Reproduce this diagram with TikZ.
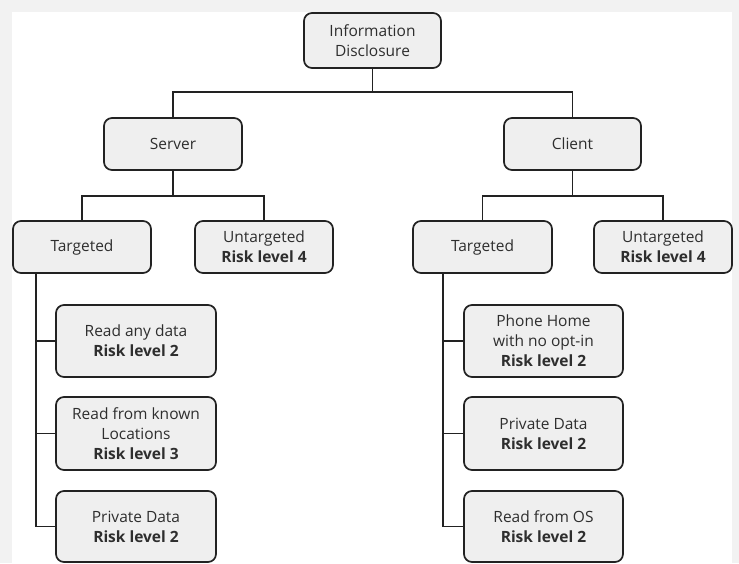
\documentclass[tikz,border=0pt]{standalone}
\usepackage{fontspec}
\setmainfont{Open Sans}
\usetikzlibrary{calc}
\definecolor{framegray}{HTML}{F2F2F2}
\definecolor{boxgray}{HTML}{EFEFEF}
\definecolor{edgeblack}{HTML}{222222}
\definecolor{textgray}{HTML}{2E2E2E}
\tikzset{
  box/.style={draw=edgeblack, line width=1.7pt, fill=boxgray, rounded corners=8pt,
    align=center, inner sep=0pt, text=textgray,
    font=\fontsize{15.5}{20}\selectfont},
  link/.style={draw=edgeblack, line width=1.6pt}
}
\begin{document}
\begin{tikzpicture}[x=1pt,y=-1pt]
\useasboundingbox (0,0) rectangle (739,563);
\fill[framegray] (0,0) rectangle (739,563);
\fill[white] (12,12) rectangle (732,563);

\node[box, minimum width=137pt, minimum height=55pt] (info) at (372.5,40.5) {Information\\Disclosure};

\node[box, minimum width=138pt, minimum height=52pt] (server) at (173,144) {Server};
\node[box, minimum width=137pt, minimum height=52pt] (client) at (572.5,144) {Client};

\node[box, minimum width=138pt, minimum height=52pt] (sT) at (82,247) {Targeted};
\node[box, minimum width=138pt, minimum height=52pt] (sU) at (264,247) {Untargeted\\\textbf{Risk level 4}};
\node[box, minimum width=139pt, minimum height=52pt] (cT) at (482.5,247) {Targeted};
\node[box, minimum width=138pt, minimum height=52pt] (cU) at (663,247) {Untargeted\\\textbf{Risk level 4}};

\node[box, minimum width=160pt, minimum height=72pt] (s1) at (136,341) {Read any data\\\textbf{Risk level 2}};
\node[box, minimum width=160pt, minimum height=73pt] (s2) at (136,433.5) {Read from known\\Locations\\\textbf{Risk level 3}};
\node[box, minimum width=160pt, minimum height=71pt] (s3) at (136,526.5) {Private Data\\\textbf{Risk level 2}};

\node[box, minimum width=159pt, minimum height=72pt] (c1) at (543.5,341) {Phone Home\\with no opt-in\\\textbf{Risk level 2}};
\node[box, minimum width=159pt, minimum height=73pt] (c2) at (543.5,433.5) {Private Data\\\textbf{Risk level 2}};
\node[box, minimum width=159pt, minimum height=71pt] (c3) at (543.5,526.5) {Read from OS\\\textbf{Risk level 2}};

\coordinate (j1) at (372.5,92);
\coordinate (j2) at (173,196);
\coordinate (j3) at (572.5,196);
\coordinate (t1) at (36,0);
\coordinate (t2) at (443,0);

\draw[link] (info.south) -- (j1);
\draw[link] (server.north) |- (j1) -| (client.north);
\draw[link] (server.south) -- (j2);
\draw[link] (sT.north) |- (j2) -| (sU.north);
\draw[link] (client.south) -- (j3);
\draw[link] (cT.north) |- (j3) -| (cU.north);

\draw[link] (sT.south -| t1) |- (s3.west);
\draw[link] (s1.west) -- (s1.west -| t1);
\draw[link] (s2.west) -- (s2.west -| t1);

\draw[link] (cT.south -| t2) |- (c3.west);
\draw[link] (c1.west) -- (c1.west -| t2);
\draw[link] (c2.west) -- (c2.west -| t2);
\end{tikzpicture}
\end{document}
